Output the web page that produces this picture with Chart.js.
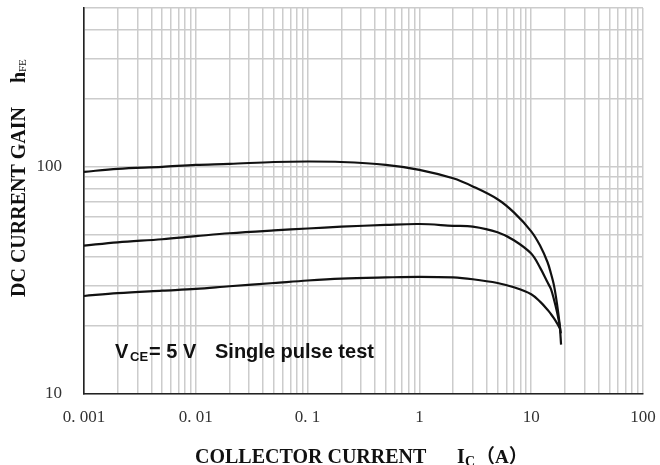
<!DOCTYPE html>
<html>
<head>
<meta charset="utf-8">
<script src="https://cdn.jsdelivr.net/npm/chart.js@4.4.1/dist/chart.umd.min.js"></script>
<style>
  html, body { margin: 0; padding: 0; background: #fff; }
  canvas { display: block; }
</style>
</head>
<body>
<canvas class="js-chart" width="660" height="465"></canvas>
<script>
// curves: collector current (A) and hFE
const topIc = [0.001, 0.002, 0.005, 0.01, 0.02, 0.05, 0.1, 0.2, 0.5, 1, 2, 3, 5, 7, 10, 12, 14, 15, 16, 17, 18, 18.5]
const topHfe = [95, 98, 100, 102, 103, 105, 105.5, 105, 102, 97, 89, 82, 72, 63, 52, 45, 38, 34, 30, 25, 20, 16.5]

const midIc = [0.001, 0.002, 0.005, 0.01, 0.02, 0.05, 0.1, 0.2, 0.5, 1, 2, 3, 5, 7, 10, 12, 14, 15, 16, 17, 18, 18.4]
const midHfe = [45, 46.5, 48, 49.5, 51, 52.5, 53.5, 54.5, 55.5, 56, 55, 54.5, 51.5, 47.5, 41.5, 36, 31, 29, 26, 23, 20, 18.5]

const lowIc = [0.001, 0.002, 0.005, 0.01, 0.02, 0.05, 0.1, 0.2, 0.5, 1, 2, 3, 5, 7, 10, 12, 14, 15, 16, 17, 18]
const lowHfe = [27, 27.8, 28.5, 29, 29.8, 30.8, 31.6, 32.2, 32.6, 32.8, 32.6, 32, 30.8, 29.5, 27.5, 25.5, 23.5, 22.5, 21.5, 20.5, 19.5]

// grid values and the labels shown at them
const xGrid = [0.001, 0.002, 0.003, 0.004, 0.005, 0.006, 0.007, 0.008, 0.009,
               0.01, 0.02, 0.03, 0.04, 0.05, 0.06, 0.07, 0.08, 0.09,
               0.1, 0.2, 0.3, 0.4, 0.5, 0.6, 0.7, 0.8, 0.9,
               1, 2, 3, 4, 5, 6, 7, 8, 9,
               10, 20, 30, 40, 50, 60, 70, 80, 90, 100]
const xTickValues = [0.001, 0.01, 0.1, 1, 10, 100]
const xTickLabels = ['0. 001', '0. 01', '0. 1', '1', '10', '100']

const yGrid = [10, 20, 30, 40, 50, 60, 70, 80, 90, 100, 200, 300, 400, 500]
const yTickValues = [10, 100]
const yTickLabels = ['10', '100']

const labelFor = function(value, values, labels){
    for(let i = 0; i < values.length; i++){
        if(Math.abs(value - values[i]) / values[i] < 1e-6) return labels[i]
    }
    return ''
}

const toPoints = function(xs, ys){
    return xs.map((x, i) => ({x: x, y: ys[i]}))
}

const curve = function(xs, ys){
    return {
        data: toPoints(xs, ys),
        showLine: true,
        borderColor: '#111',
        borderWidth: 2.2,
        pointRadius: 0,
        tension: 0.35,
        fill: false
    }
}

const gridColor = '#cccccc'
const tickFont = {family: '"Liberation Serif", serif', size: 17}

// axis titles and the test note
const textPlugin = {
    id: 'texts',
    afterDraw(chart){
        const ctx = chart.ctx
        ctx.save()
        ctx.fillStyle = '#111'
        ctx.textBaseline = 'alphabetic'
        ctx.textAlign = 'left'

        // note inside the plot
        ctx.font = 'bold 20px "Liberation Sans", Arial, sans-serif'
        ctx.fillText('V', 115, 358)
        ctx.font = 'bold 13px "Liberation Sans", Arial, sans-serif'
        ctx.fillText('CE', 130, 361)
        ctx.font = 'bold 20px "Liberation Sans", Arial, sans-serif'
        ctx.fillText('= 5 V', 149, 358)
        ctx.fillText('Single pulse test', 215, 358)

        // x title
        ctx.font = 'bold 20px "Liberation Serif", serif'
        ctx.fillText('COLLECTOR CURRENT', 195, 463)
        ctx.fillText('I', 457, 463)
        ctx.font = 'bold 14px "Liberation Serif", serif'
        ctx.fillText('C', 465, 466)
        ctx.font = 'bold 19px "Liberation Serif", "Noto Sans CJK SC", serif'
        ctx.fillText('（A）', 476, 463)

        // y title
        ctx.translate(25, 297)
        ctx.rotate(-Math.PI / 2)
        ctx.font = 'bold 20px "Liberation Serif", serif'
        ctx.fillText('DC CURRENT GAIN', 0, 0)
        ctx.fillText('h', 214, 0)
        ctx.font = '11px "Liberation Serif", serif'
        ctx.fillText('FE', 225, 1)
        ctx.restore()
    }
}

const initChart = function(){
    const config = {
        type: 'scatter',
        data: {
            datasets: [curve(topIc, topHfe), curve(midIc, midHfe), curve(lowIc, lowHfe)]
        },
        options: {
            responsive: false,
            animation: false,
            layout: {padding: {top: 8, right: 17, left: 0, bottom: 0}},
            scales: {
                x: {
                    type: 'logarithmic',
                    min: 0.001,
                    max: 100,
                    afterBuildTicks: scale => { scale.ticks = xGrid.map(v => ({value: v})) },
                    afterFit: scale => {
                        scale.height = 71
                        scale.paddingLeft = 0
                        scale.paddingRight = 0
                    },
                    grid: {color: gridColor, lineWidth: 1.5, drawTicks: false},
                    border: {color: '#222', width: 1.6},
                    ticks: {
                        autoSkip: false,
                        maxRotation: 0,
                        padding: 13,
                        color: '#333',
                        font: tickFont,
                        callback: value => labelFor(value, xTickValues, xTickLabels)
                    }
                },
                y: {
                    type: 'logarithmic',
                    min: 10,
                    max: 500,
                    afterBuildTicks: scale => { scale.ticks = yGrid.map(v => ({value: v})) },
                    afterFit: scale => {
                        scale.width = 84
                        scale.paddingTop = 0
                        scale.paddingBottom = 0
                    },
                    grid: {color: gridColor, lineWidth: 1.5, drawTicks: false},
                    border: {color: '#222', width: 1.6},
                    ticks: {
                        autoSkip: false,
                        padding: 22,
                        color: '#333',
                        font: tickFont,
                        callback: value => labelFor(value, yTickValues, yTickLabels)
                    }
                }
            },
            plugins: {
                legend: {display: false},
                tooltip: {enabled: false}
            }
        },
        plugins: [textPlugin]
    }

    const chart = new Chart(document.querySelector('.js-chart'), config)
}

document.addEventListener('DOMContentLoaded', function(){
    initChart()
})
</script>
</body>
</html>
